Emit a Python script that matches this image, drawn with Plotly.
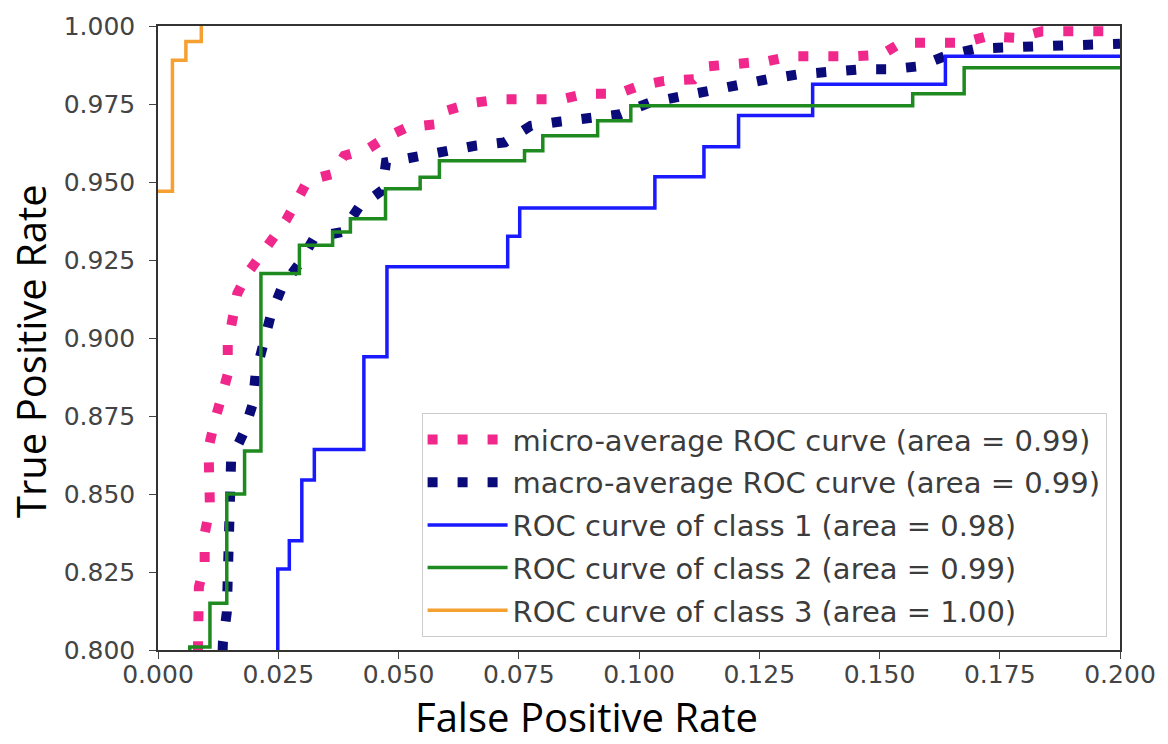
import plotly.graph_objects as go

# ---- data ----
micro_fpr = [0.0082, 0.0087, 0.0085, 0.0097, 0.0097, 0.0108, 0.0108, 0.0105, 0.0118, 0.0132, 0.0145, 0.0145,
             0.0155, 0.0165, 0.0186, 0.0214, 0.0238, 0.0266, 0.0290, 0.0311, 0.0363, 0.0387, 0.0435, 0.0476,
             0.0518, 0.0576, 0.0600, 0.0656, 0.0714, 0.0838, 0.0890, 0.0956, 0.1000, 0.1052, 0.1114, 0.1145,
             0.1266, 0.1317, 0.1445, 0.1504, 0.1545, 0.1673, 0.1724, 0.1786, 0.1838, 0.1962, 0.2000]
micro_tpr = [0.790, 0.8096, 0.8202, 0.8277, 0.8372, 0.8457, 0.8553, 0.8648, 0.8734, 0.8808, 0.8884, 0.8980,
             0.9063, 0.9143, 0.9207, 0.9265, 0.9324, 0.9377, 0.9443, 0.9505, 0.9526, 0.9584, 0.9605, 0.9645,
             0.9675, 0.9685, 0.9729, 0.9754, 0.9765, 0.9765, 0.9783, 0.9783, 0.9808, 0.9824, 0.9829, 0.9871,
             0.9887, 0.9903, 0.9903, 0.9908, 0.9946, 0.9946, 0.9967, 0.9962, 0.9983, 0.9983, 0.9983]

macro_fpr = [0.0132, 0.0135, 0.0143, 0.0145, 0.0145, 0.0149, 0.0147, 0.0152, 0.0178, 0.0197, 0.0203, 0.0217,
             0.0235, 0.0258, 0.0294, 0.0325, 0.0383, 0.0418, 0.0466, 0.0474, 0.0535, 0.0597, 0.0659, 0.0721,
             0.0775, 0.0837, 0.0897, 0.0961, 0.1021, 0.1083, 0.1145, 0.1204, 0.1266, 0.1331, 0.1393, 0.1459,
             0.1521, 0.1583, 0.1642, 0.1704, 0.1830, 0.1957, 0.2000]
macro_tpr = [0.790, 0.8026, 0.8120, 0.8223, 0.8319, 0.8415, 0.8519, 0.8611, 0.8696, 0.8789, 0.8885, 0.8980,
             0.9076, 0.9164, 0.9239, 0.9322, 0.9340, 0.9420, 0.9473, 0.9563, 0.9581, 0.9600, 0.9616, 0.9627,
             0.9680, 0.9694, 0.9707, 0.9717, 0.9754, 0.9773, 0.9792, 0.9818, 0.9829, 0.9845, 0.9856, 0.9861,
             0.9861, 0.9871, 0.9907, 0.9928, 0.9935, 0.9943, 0.9943]

class1_fpr = [0.0249, 0.0249, 0.0273, 0.0273, 0.0299, 0.0299, 0.0325, 0.0325, 0.0428, 0.0428, 0.0476, 0.0476,
              0.0727, 0.0727, 0.0752, 0.0752, 0.1033, 0.1033, 0.1135, 0.1135, 0.1207, 0.1207, 0.1361, 0.1361,
              0.1637, 0.1637, 0.2000]
class1_tpr = [0.790, 0.826, 0.826, 0.835, 0.835, 0.8545, 0.8545, 0.8643, 0.8643, 0.894, 0.894, 0.9228,
              0.9228, 0.9326, 0.9326, 0.9417, 0.9417, 0.9517, 0.9517, 0.9613, 0.9613, 0.9713, 0.9713, 0.9813,
              0.9813, 0.9903, 0.9903]

class2_fpr = [0.0066, 0.0066, 0.0108, 0.0108, 0.0143, 0.0143, 0.0180, 0.0180, 0.0214, 0.0214, 0.0294, 0.0294,
              0.0363, 0.0363, 0.0400, 0.0400, 0.0473, 0.0473, 0.0545, 0.0545, 0.0585, 0.0585, 0.0762, 0.0762,
              0.0800, 0.0800, 0.0914, 0.0914, 0.0983, 0.0983, 0.1569, 0.1569, 0.1676, 0.1676, 0.2000]
class2_tpr = [0.790, 0.801, 0.801, 0.815, 0.815, 0.850, 0.850, 0.8638, 0.8638, 0.9207, 0.9207, 0.9297,
              0.9297, 0.934, 0.934, 0.9382, 0.9382, 0.9478, 0.9478, 0.9515, 0.9515, 0.9568, 0.9568, 0.960,
              0.960, 0.9648, 0.9648, 0.9696, 0.9696, 0.9744, 0.9744, 0.9783, 0.9783, 0.9866, 0.9866]

class3_fpr = [0.0, 0.0030, 0.0030, 0.0058, 0.0058, 0.0090, 0.0090]
class3_tpr = [0.947, 0.947, 0.989, 0.989, 0.995, 0.995, 1.000]

labels = ["micro-average ROC curve (area = 0.99)",
          "macro-average ROC curve (area = 0.99)",
          "ROC curve of class 1 (area = 0.98)",
          "ROC curve of class 2 (area = 0.99)",
          "ROC curve of class 3 (area = 1.00)"]

x_ticks = [0.0, 0.025, 0.05, 0.075, 0.1, 0.125, 0.15, 0.175, 0.2]
y_ticks = [0.8, 0.825, 0.85, 0.875, 0.9, 0.925, 0.95, 0.975, 1.0]

# ---- figure ----
fig = go.Figure()
series = [
    (micro_fpr, micro_tpr, labels[0], "#f0288c", 10, "10px,20px"),
    (macro_fpr, macro_tpr, labels[1], "#0a0a78", 10, "10px,20px"),
    (class1_fpr, class1_tpr, labels[2], "#1a1aff", 3.5, "solid"),
    (class2_fpr, class2_tpr, labels[3], "#1f8a1f", 3.5, "solid"),
    (class3_fpr, class3_tpr, labels[4], "#f5a030", 3.5, "solid"),
]
for i, (xs, ys, name, col, w, dash) in enumerate(series):
    fig.add_trace(go.Scatter(x=xs, y=ys, mode="lines", name=name, legendgroup=str(i),
                             line=dict(color=col, width=w, dash=dash)))

tick_font = dict(family="DejaVu Sans", size=25, color="#444444")
axis_style = dict(ticks="outside", ticklen=7, tickcolor="#444", showline=True, mirror=True,
                  linecolor="#333", linewidth=1.5, showgrid=False, zeroline=False,
                  tickfont=tick_font, tickformat=".3f")
fig.update_xaxes(range=[0, 0.2], tickvals=x_ticks, ticklabelstandoff=-6, **axis_style)
fig.update_yaxes(range=[0.8, 1.0], tickvals=y_ticks, ticklabelstandoff=9, **axis_style)

fig.update_layout(
    width=1168, height=744,
    margin=dict(l=158, r=43, t=23, b=94),
    paper_bgcolor="white", plot_bgcolor="white",
    legend=dict(x=0.274, y=0.3796, xanchor="left", yanchor="top",
                font=dict(family="DejaVu Sans", size=29, color="#3c3c3c"),
                bordercolor="#cccccc", borderwidth=1, bgcolor="white",
                tracegroupgap=2, itemwidth=80),
    annotations=[
        dict(text="True Positive Rate", xref="paper", yref="paper", x=-0.1324, y=0.4785,
             xanchor="center", yanchor="middle",
             textangle=-90, showarrow=False, font=dict(family="Open Sans", size=40, color="black")),
        dict(text="False Positive Rate", xref="paper", yref="paper", x=0.4457, y=-0.1148,
             xanchor="center", yanchor="middle", yshift=5,
             showarrow=False, font=dict(family="Open Sans", size=40, color="black")),
    ],
)

fig.write_html("out.html")
